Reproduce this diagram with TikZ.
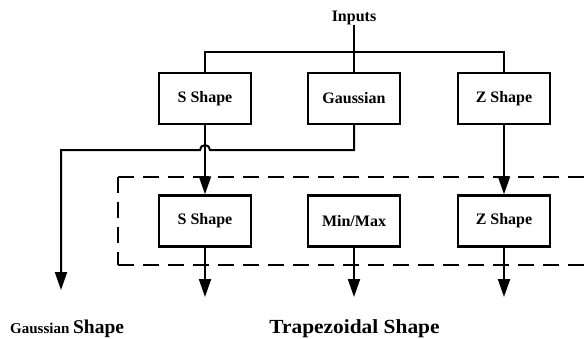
\documentclass[tikz,border=0pt]{standalone}
\usepackage{fontspec}
\usepackage{graphicx}
\setmainfont{Liberation Serif}
\usetikzlibrary{arrows.meta}
\begin{document}
\begin{tikzpicture}[x=1pt,y=-1pt,
  blk/.style={draw,line width=2.4pt,minimum width=92pt,minimum height=51pt,inner sep=0pt,
    font=\fontsize{16}{19}\selectfont\bfseries},
  conn/.style={line width=2pt},
  arr/.style={conn,-{Triangle[length=18pt,width=12pt]}},
  dashbox/.style={line width=2.4pt,dash pattern=on 16pt off 9pt},
  lbl/.style={inner sep=0pt}]
\useasboundingbox (0,0) rectangle (587,338);

\node[lbl,anchor=base,font=\fontsize{16}{19}\selectfont\bfseries] (inp) at (354,21) {Inputs};

\node[blk] (s1) at (205,98.5) {S Shape};
\node[blk] (g1) at (354,98.5) {Gaussian};
\node[blk] (z1) at (504,98.5) {Z Shape};

\node[blk] (s2) at (205,221) {S Shape};
\node[blk] (m2) at (354,221) {Min/Max};
\node[blk] (z2) at (504,221) {Z Shape};

\coordinate (hub) at (354,52);
\coordinate (gturn) at (354,150);
\coordinate (hopR) at (210,150);
\coordinate (gleft) at (61,150);
\coordinate (gout) at (61,290);
\coordinate (o1) at (205,297);
\coordinate (o2) at (354,297);
\coordinate (o3) at (504,297);

% inputs distribution
\draw[conn] (inp.south) -- (g1.north);
\draw[conn] (s1.north) -- (s1.north |- hub) -- (z1.north |- hub) -- (z1.north);

% gaussian output with hop
\draw[arr] (g1.south) -- (gturn) -- (hopR) arc(0:180:5pt) -- (gleft) -- (gout);

% first to second row
\draw[arr] (s1.south) -- (s2.north);
\draw[arr] (z1.south) -- (z2.north);

% dashed group (open on the right, beyond the picture)
\draw[dashbox] (118,177) -- (600,177);
\draw[dashbox] (118,177) -- (118,265);
\draw[dashbox] (118,265) -- (600,265);

% outputs
\draw[arr] (s2.south) -- (o1);
\draw[arr] (m2.south) -- (o2);
\draw[arr] (z2.south) -- (o3);

% labels
\node[lbl,anchor=base west] (gl) at (10,333)
  {\fontsize{15}{18}\selectfont\bfseries Gaussian \fontsize{19.5}{22}\selectfont Shape};
\node[lbl,anchor=base] (tl) at (354.5,333)
  {\scalebox{1.07}[1]{\fontsize{20}{24}\selectfont\bfseries Trapezoidal Shape}};
\end{tikzpicture}
\end{document}
